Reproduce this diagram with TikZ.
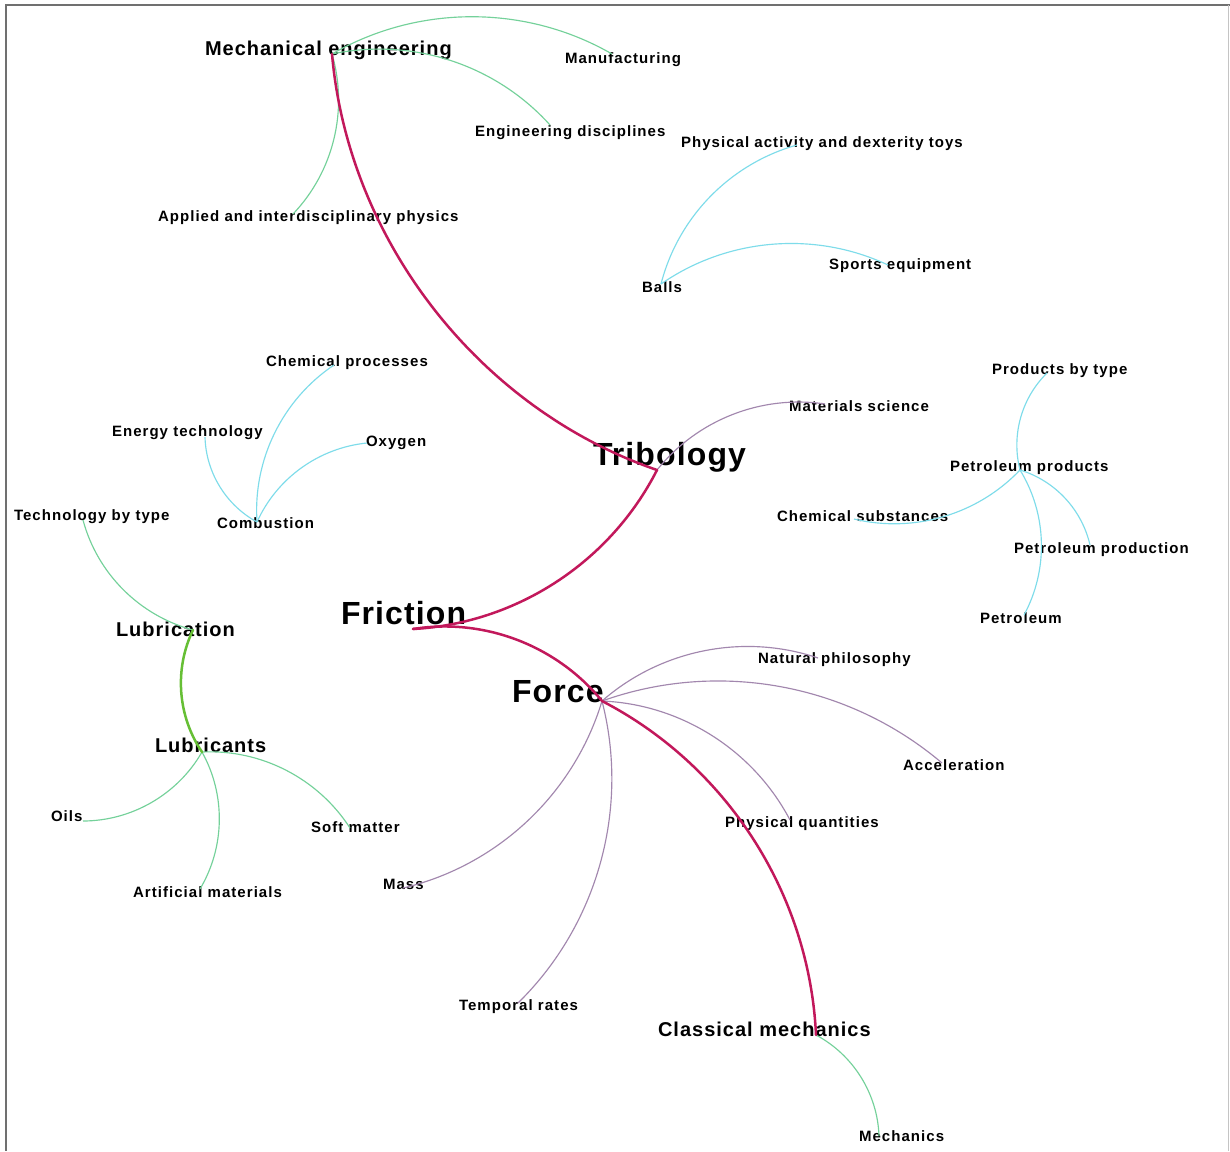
\documentclass[tikz,border=0pt]{standalone}
\usepackage{fontspec}
\setmainfont{Liberation Sans}
\definecolor{linkred}{HTML}{C2185B}
\definecolor{linkgreen}{HTML}{66BF35}
\definecolor{linkmint}{HTML}{74D19A}
\definecolor{linkcyan}{HTML}{7EDCEA}
\definecolor{linkpurple}{HTML}{A287AE}
\definecolor{framedark}{HTML}{707070}
\definecolor{framelight}{HTML}{C4C4C4}
\tikzset{
  lbl/.style={anchor=base west, inner sep=0pt, outer sep=0pt, text=black},
  small/.style={lbl, font=\fontsize{15}{18}\selectfont\bfseries\addfontfeatures{LetterSpace=7}},
  medium/.style={lbl, font=\fontsize{20}{24}\selectfont\bfseries\addfontfeatures{LetterSpace=5}},
  large/.style={lbl, font=\fontsize{32}{38}\selectfont\bfseries\addfontfeatures{LetterSpace=3.5}},
  arc/.style={bend left=30, looseness=0.91},
  strong/.style={line width=2.5pt, line cap=round},
  weak/.style={line width=1.15pt},
  redlink/.style={strong, draw=linkred},
  greenlink/.style={strong, draw=linkgreen},
  mintlink/.style={weak, draw=linkmint},
  cyanlink/.style={weak, draw=linkcyan},
  purplelink/.style={weak, draw=linkpurple},
}
\begin{document}
\begin{tikzpicture}[x=1pt, y=1pt]
\useasboundingbox (0,0) rectangle (1230,-1151);
\fill[white] (0,0) rectangle (1230,-1151);

% frame
\draw[framedark, line width=2pt] (5,-5) -- (1230,-5);
\draw[framedark, line width=1.2pt] (6,-5) -- (6,-1151);
\draw[framelight, line width=1.2pt] (1228.5,-5) -- (1228.5,-1151);

% anchor points of the graph
\coordinate (me) at (332,-54);
\coordinate (manu) at (612,-54);
\coordinate (engd) at (550,-125);
\coordinate (app) at (293,-214);
\coordinate (toys) at (797,-145);
\coordinate (sport) at (888,-265);
\coordinate (balls) at (661,-284);
\coordinate (chemp) at (334,-365);
\coordinate (energy) at (205,-437);
\coordinate (oxy) at (367,-443);
\coordinate (comb) at (257,-522);
\coordinate (tech) at (83,-520);
\coordinate (lubn) at (193,-630);
\coordinate (lubs) at (202,-752);
\coordinate (oils) at (83,-821);
\coordinate (soft) at (350,-828);
\coordinate (art) at (200,-889);
\coordinate (mass) at (403,-888);
\coordinate (temp) at (518,-1003);
\coordinate (fric) at (413,-629);
\coordinate (force) at (602,-701);
\coordinate (nat) at (818,-658);
\coordinate (acc) at (942,-763);
\coordinate (phq) at (790,-820);
\coordinate (cm) at (816,-1035);
\coordinate (mech) at (879,-1136);
\coordinate (tri) at (657,-470);
\coordinate (mat) at (825,-404);
\coordinate (prod) at (1047,-373);
\coordinate (pp) at (1020,-470);
\coordinate (chems) at (854,-519);
\coordinate (pprod) at (1090,-545);
\coordinate (petr) at (1024,-615);

% labels
\node[medium] (meL) at (205,-55) {Mechanical engineering};
\node[small] (manuL) at (565,-63.5) {Manufacturing};
\node[small] (engdL) at (475,-136.5) {Engineering disciplines};
\node[small] (toysL) at (681,-147.5) {Physical activity and dexterity toys};
\node[small] (appL) at (158,-221.5) {Applied and interdisciplinary physics};
\node[small] (sportL) at (829,-269.5) {Sports equipment};
\node[small] (ballsL) at (642,-292.5) {Balls};
\node[small] (chempL) at (266,-366.5) {Chemical processes};
\node[small] (prodL) at (992,-374.5) {Products by type};
\node[small] (matL) at (789,-411.5) {Materials science};
\node[small] (energyL) at (112,-436.5) {Energy technology};
\node[small] (oxyL) at (366,-446.5) {Oxygen};
\node[large] (triL) at (593,-465.5) {Tribology};
\node[small] (ppL) at (950,-471.5) {Petroleum products};
\node[small] (techL) at (14,-520.5) {Technology by type};
\node[small] (chemsL) at (777,-521.5) {Chemical substances};
\node[small] (combL) at (217,-528.5) {Combustion};
\node[small] (pprodL) at (1014,-553.5) {Petroleum production};
\node[large] (fricL) at (341,-624) {Friction};
\node[small] (petrL) at (980,-623.5) {Petroleum};
\node[medium] (lubnL) at (116,-636) {Lubrication};
\node[small] (natL) at (758,-663.5) {Natural philosophy};
\node[large] (forceL) at (512,-702) {Force};
\node[medium] (lubsL) at (155,-752) {Lubricants};
\node[small] (accL) at (903,-770.5) {Acceleration};
\node[small] (oilsL) at (51,-821.5) {Oils};
\node[small] (phqL) at (725,-827.5) {Physical quantities};
\node[small] (softL) at (311,-832.5) {Soft matter};
\node[small] (massL) at (383,-889.5) {Mass};
\node[small] (artL) at (133,-897.5) {Artificial materials};
\node[small] (tempL) at (459,-1010.5) {Temporal rates};
\node[medium] (cmL) at (658,-1036) {Classical mechanics};
\node[small] (mechL) at (859,-1141.5) {Mechanics};

% thin links
\draw[mintlink] (me) to[arc] (manu);
\draw[mintlink] (me) to[arc] (engd);
\draw[mintlink] (me) to[arc] (app);
\draw[mintlink] (lubn) to[arc] (tech);
\draw[mintlink] (lubs) to[arc] (oils);
\draw[mintlink] (lubs) to[arc] (art);
\draw[mintlink] (lubs) to[arc] (soft);
\draw[mintlink] (cm) to[arc] (mech);

\draw[cyanlink] (balls) to[arc] (toys);
\draw[cyanlink] (balls) to[arc] (sport);
\draw[cyanlink] (comb) to[arc] (chemp);
\draw[cyanlink] (comb) to[arc] (energy);
\draw[cyanlink] (comb) to[arc] (oxy);
\draw[cyanlink] (pp) to[arc] (prod);
\draw[cyanlink] (pp) to[arc] (chems);
\draw[cyanlink] (pp) to[arc] (pprod);
\draw[cyanlink] (pp) to[arc] (petr);

\draw[purplelink] (tri) to[arc] (mat);
\draw[purplelink] (force) to[arc] (nat);
\draw[purplelink] (force) to[arc] (acc);
\draw[purplelink] (force) to[arc] (phq);
\draw[purplelink] (force) to[arc] (mass);
\draw[purplelink] (force) to[arc] (temp);

% strong links
\draw[greenlink] (lubs) to[arc] (lubn);
\draw[redlink] (tri) to[arc, bend left=33] (me);
\draw[redlink] (tri) to[arc] (fric);
\draw[redlink] (fric) to[arc] (force);
\draw[redlink] (force) to[arc] (cm);
\end{tikzpicture}
\end{document}
